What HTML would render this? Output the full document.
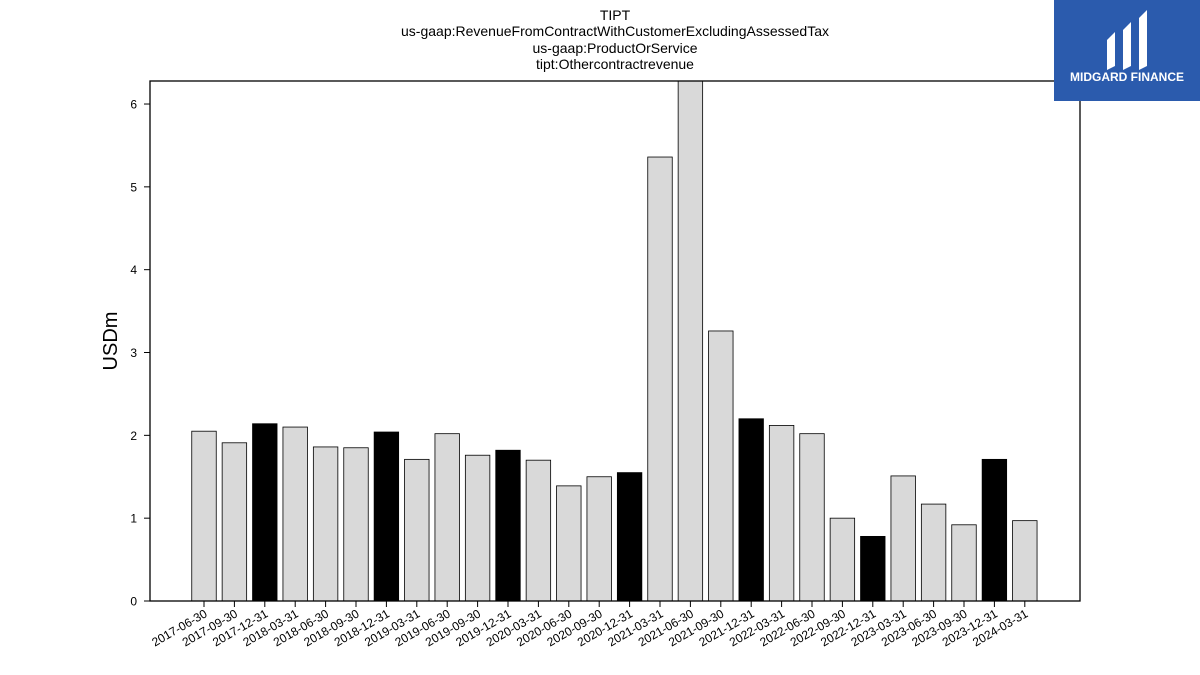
<!DOCTYPE html>
<html><head><meta charset="utf-8">
<style>
html,body{margin:0;padding:0;background:#fff;width:1200px;height:675px;overflow:hidden;font-family:"Liberation Sans","DejaVu Sans",sans-serif;}
</style></head>
<body>
<svg id="chart" width="1200" height="675" xmlns="http://www.w3.org/2000/svg">
  <g font-size="14" text-anchor="middle" fill="#000">
    <text x="615" y="20">TIPT</text>
    <text x="615" y="36">us-gaap:RevenueFromContractWithCustomerExcludingAssessedTax</text>
    <text x="615" y="53">us-gaap:ProductOrService</text>
    <text x="615" y="69">tipt:Othercontractrevenue</text>
  </g>
  <g id="bars"></g>
  <rect x="150" y="81" width="930" height="520" fill="none" stroke="#000" stroke-width="1.3"/>
  <g id="yaxis"></g>
  <g id="xaxis"></g>
  <text x="117" y="341" font-size="20" text-anchor="middle" transform="rotate(-90 117 341)">USDm</text>
  <g>
    <rect x="1054" y="0" width="146" height="101" fill="#2b5bad"/>
    <path d="M1107 40 L1115 32 L1115 66 L1107 70 Z" fill="#fff"/>
    <path d="M1123 30 L1131 22 L1131 66 L1123 70 Z" fill="#fff"/>
    <path d="M1139 18 L1147 10 L1147 66 L1139 70 Z" fill="#fff"/>
    <text x="1127" y="81" font-size="12" font-weight="bold" fill="#fff" text-anchor="middle">MIDGARD FINANCE</text>
  </g>
</svg>
<script>
const categories=["2017-06-30","2017-09-30","2017-12-31","2018-03-31","2018-06-30","2018-09-30","2018-12-31","2019-03-31","2019-06-30","2019-09-30","2019-12-31","2020-03-31","2020-06-30","2020-09-30","2020-12-31","2021-03-31","2021-06-30","2021-09-30","2021-12-31","2022-03-31","2022-06-30","2022-09-30","2022-12-31","2023-03-31","2023-06-30","2023-09-30","2023-12-31","2024-03-31"];
const values=[2.05,1.91,2.14,2.10,1.86,1.85,2.04,1.71,2.02,1.76,1.82,1.70,1.39,1.50,1.55,5.36,6.5,3.26,2.20,2.12,2.02,1.00,0.78,1.51,1.17,0.92,1.71,0.97];
const yTicks=[0,1,2,3,4,5,6];
const NS="http://www.w3.org/2000/svg";
const plotTop=81,plotBottom=601,y0=601,pxPerUnit=82.83;
function yScale(v){return Math.max(plotTop,y0-v*pxPerUnit);}
function xScale(i){return 204+i*30.4;}
const bw=24.5;
const bars=document.getElementById('bars');
values.forEach((v,i)=>{
  const r=document.createElementNS(NS,'rect');
  
  
  const y=yScale(v);
  r.setAttribute('x',xScale(i)-bw/2);r.setAttribute('y',y);
  r.setAttribute('width',bw);r.setAttribute('height',plotBottom-y);
  r.setAttribute('fill',categories[i].endsWith('12-31')?'#000':'#d9d9d9');
  r.setAttribute('stroke','#000');r.setAttribute('stroke-width','0.8');
  bars.appendChild(r);
});
const ya=document.getElementById('yaxis');
yTicks.forEach(t=>{
  const y=yScale(t);
  const l=document.createElementNS(NS,'line');
  
  
  l.setAttribute('x1',144);l.setAttribute('x2',150);l.setAttribute('y1',y);l.setAttribute('y2',y);l.setAttribute('stroke','#000');
  ya.appendChild(l);
  const tx=document.createElementNS(NS,'text');
  
  
  tx.setAttribute('x',137);tx.setAttribute('y',y+4.5);tx.setAttribute('font-size','12');tx.setAttribute('text-anchor','end');
  tx.textContent=t;ya.appendChild(tx);
});
const xa=document.getElementById('xaxis');
categories.forEach((c,i)=>{
  const x=xScale(i);
  const l=document.createElementNS(NS,'line');
  
  
  l.setAttribute('x1',x);l.setAttribute('x2',x);l.setAttribute('y1',601);l.setAttribute('y2',607);l.setAttribute('stroke','#000');
  xa.appendChild(l);
  const tx=document.createElementNS(NS,'text');
  
  
  tx.setAttribute('x',x+4);tx.setAttribute('y',616);tx.setAttribute('font-size','12');tx.setAttribute('text-anchor','end');
  tx.setAttribute('transform','rotate(-30 '+(x+4)+' 616)');
  tx.textContent=c;xa.appendChild(tx);
});
</script>
</body></html>
